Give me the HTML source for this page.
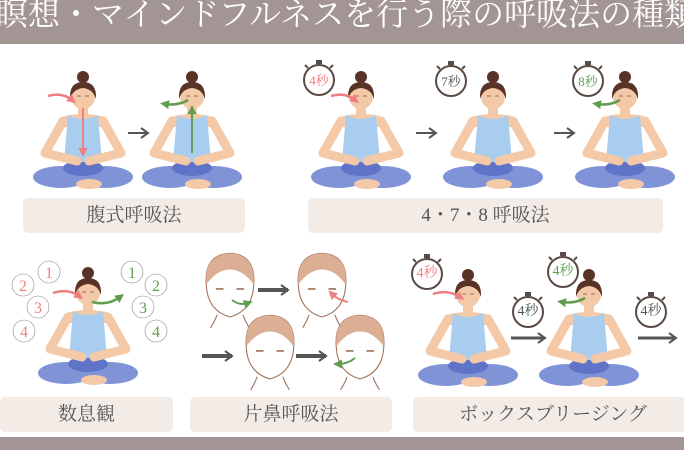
<!DOCTYPE html>
<html><head><meta charset="utf-8"><style>
html,body{margin:0;padding:0;background:#fff;}
body{width:684px;height:450px;overflow:hidden;position:relative;font-family:"Liberation Serif","Noto Serif CJK SC",serif;}
.hdr{position:absolute;left:0;top:0;width:684px;height:44px;background:#a39593;color:#fff;font-size:32px;line-height:38px;white-space:nowrap;overflow:hidden;}
.hdr span{position:absolute;left:-4px;top:-5px;}
.lab{position:absolute;background:#f3ebe6;border-radius:5px;color:#555;font-size:19px;text-align:center;}
.foot{position:absolute;left:0;top:437px;width:684px;height:13px;background:#a39593;}
svg{position:absolute;left:0;top:0;}
</style></head><body>
<div class="hdr"><span>瞑想・マインドフルネスを行う際の呼吸法の種類</span></div>
<svg width="684" height="450" viewBox="0 0 684 450">
<defs>
<symbol id="w" viewBox="-48 0 96 125" overflow="visible">
 <ellipse cx="-22" cy="110" rx="28" ry="11" fill="#7f93d6"/>
 <ellipse cx="22" cy="110" rx="28" ry="11" fill="#7f93d6"/>
 <ellipse cx="0" cy="101" rx="20" ry="8" fill="#5f74c8"/>
 <ellipse cx="6" cy="117" rx="13" ry="5" fill="#f3c9a8"/>
 <rect x="-5" y="38" width="10" height="12" fill="#f3c9a8"/>
 <path d="M-22,50 Q0,44 22,50 L20,60 L-20,60Z" fill="#f3c9a8"/>
 <path d="M-15,48 Q0,56 15,48 L19,95 L-19,95Z" fill="#a9cdee"/>
 <path d="M-20,54 L-38,86 L-6,94" fill="none" stroke="#f3c9a8" stroke-width="9" stroke-linecap="round" stroke-linejoin="round"/>
 <path d="M20,54 L38,86 L6,94" fill="none" stroke="#f3c9a8" stroke-width="9" stroke-linecap="round" stroke-linejoin="round"/>
 <circle cx="0" cy="30" r="12" fill="#f3c9a8"/>
 <path d="M-13,32 Q-14,15 0,15 Q14,15 13,32 Q10,22 0,21 Q-10,22 -13,32Z" fill="#5a3328"/>
 <circle cx="0" cy="10" r="6" fill="#5a3328"/>
 <path d="M-6,29 h4 M2,29 h4" stroke="#7a5040" stroke-width="0.8"/>
</symbol>
<symbol id="t" viewBox="-20 -24 40 44" overflow="visible">
 <rect x="-3" y="-20" width="6" height="4" fill="#5a4a44"/>
 <rect x="-1.5" y="-17" width="3" height="3" fill="#5a4a44"/>
 <path d="M11,-12 l3,-3 M-11,-12 l-3,-3" stroke="#5a4a44" stroke-width="2"/>
 <circle cx="0" cy="0" r="15" fill="#fff" stroke="#5a4a44" stroke-width="2"/>
</symbol>
<symbol id="face" viewBox="-25 -32 50 70" overflow="visible">
 <path d="M-22,-2 Q-24,-30 0,-31 Q24,-30 22,-2 Q21,22 0,28 Q-21,22 -22,-2Z" fill="#fff" stroke="#a0705a" stroke-width="1"/>
 <path d="M-22,-2 Q-24,-30 0,-31 Q24,-30 22,-2 Q12,-16 0,-16 Q-12,-16 -22,-2Z" fill="#dcae93"/>
 <path d="M-13,2 h7 M6,2 h7" stroke="#a0705a" stroke-width="1.5"/>
 <path d="M-12,26 Q-14,32 -18,38 M12,26 Q14,32 18,38" fill="none" stroke="#a0705a"/>
</symbol>
<marker id="ag" markerUnits="userSpaceOnUse" markerWidth="9" markerHeight="9" refX="4" refY="4.5" orient="auto"><path d="M0,0 L9,4.5 L0,9Z" fill="#5f9e4f"/></marker>
<marker id="ar" markerUnits="userSpaceOnUse" markerWidth="9" markerHeight="9" refX="4" refY="4.5" orient="auto"><path d="M0,0 L9,4.5 L0,9Z" fill="#ef7f7f"/></marker>
<marker id="ak" markerUnits="userSpaceOnUse" markerWidth="10" markerHeight="12" refX="8" refY="6" orient="auto"><path d="M1,1 L8,6 L1,11" fill="none" stroke="#555" stroke-width="2"/></marker>
</defs>
<use href="#w" x="35" y="67" width="96" height="125"/>
<use href="#w" x="144" y="67" width="96" height="125"/>
<use href="#w" x="313" y="67" width="96" height="125"/>
<use href="#w" x="445" y="67" width="96" height="125"/>
<use href="#w" x="577" y="67" width="96" height="125"/>
<path d="M48,96 Q62,92 72,100" fill="none" stroke="#ef7f7f" stroke-width="2.5" marker-end="url(#ar)"/>
<path d="M83,108 V152" stroke="#ef7f7f" stroke-width="2" marker-end="url(#ar)"/>
<path d="M188,100 Q178,106 165,104" fill="none" stroke="#5f9e4f" stroke-width="2.5" marker-end="url(#ag)"/>
<path d="M192,153 V110" stroke="#5f9e4f" stroke-width="2" marker-end="url(#ag)"/>
<path d="M128,133 h20" stroke="#555" stroke-width="2" marker-end="url(#ak)"/>
<path d="M416,133 h20" stroke="#555" stroke-width="2" marker-end="url(#ak)"/>
<path d="M554,133 h20" stroke="#555" stroke-width="2" marker-end="url(#ak)"/>
<use href="#t" x="299" y="56" width="40" height="44"/>
<use href="#t" x="431" y="57" width="40" height="44"/>
<use href="#t" x="568" y="57" width="40" height="44"/>
<g font-size="13" text-anchor="middle" font-family="Liberation Serif,Noto Serif CJK SC,serif">
<text x="319" y="85" fill="#ef7f7f">4秒</text>
<text x="451" y="86" fill="#555">7秒</text>
<text x="588" y="86" fill="#5f9e4f">8秒</text>
</g>
<path d="M331,96 Q345,92 355,100" fill="none" stroke="#ef7f7f" stroke-width="2.5" marker-end="url(#ar)"/>
<path d="M620,100 Q610,106 597,104" fill="none" stroke="#5f9e4f" stroke-width="2.5" marker-end="url(#ag)"/>
<use href="#w" x="40" y="263" width="96" height="125"/>
<path d="M53,293 Q68,288 79,296" fill="none" stroke="#ef7f7f" stroke-width="2.5" marker-end="url(#ar)"/>
<path d="M92,302 Q108,306 120,297" fill="none" stroke="#5f9e4f" stroke-width="2.5" marker-end="url(#ag)"/>
<g font-size="16" text-anchor="middle" font-family="Liberation Serif,serif">
<circle cx="49" cy="272" r="11" fill="#fff" stroke="#888" stroke-width="0.6"/><text x="49" y="278" fill="#ef7f7f">1</text>
<circle cx="23" cy="285" r="11" fill="#fff" stroke="#888" stroke-width="0.6"/><text x="23" y="291" fill="#ef7f7f">2</text>
<circle cx="38" cy="307" r="11" fill="#fff" stroke="#888" stroke-width="0.6"/><text x="38" y="313" fill="#ef7f7f">3</text>
<circle cx="24" cy="331" r="11" fill="#fff" stroke="#888" stroke-width="0.6"/><text x="24" y="337" fill="#ef7f7f">4</text>
<circle cx="132" cy="272" r="11" fill="#fff" stroke="#888" stroke-width="0.6"/><text x="132" y="278" fill="#5f9e4f">1</text>
<circle cx="156" cy="285" r="11" fill="#fff" stroke="#888" stroke-width="0.6"/><text x="156" y="291" fill="#5f9e4f">2</text>
<circle cx="143" cy="307" r="11" fill="#fff" stroke="#888" stroke-width="0.6"/><text x="143" y="313" fill="#5f9e4f">3</text>
<circle cx="156" cy="331" r="11" fill="#fff" stroke="#888" stroke-width="0.6"/><text x="156" y="337" fill="#5f9e4f">4</text>
</g>
<use href="#face" x="203" y="252" width="54" height="76"/>
<use href="#face" x="295" y="252" width="54" height="76"/>
<use href="#face" x="243" y="314" width="54" height="76"/>
<use href="#face" x="333" y="314" width="54" height="76"/>
<path d="M258,290 h30" stroke="#555" stroke-width="4" marker-end="url(#ak)"/>
<path d="M202,356 h30" stroke="#555" stroke-width="4" marker-end="url(#ak)"/>
<path d="M296,356 h30" stroke="#555" stroke-width="4" marker-end="url(#ak)"/>
<path d="M232,300 Q240,306 248,303" fill="none" stroke="#5f9e4f" stroke-width="2" marker-end="url(#ag)"/>
<path d="M348,302 Q338,300 332,294" fill="none" stroke="#ef7f7f" stroke-width="2" marker-end="url(#ar)"/>
<path d="M355,358 Q348,364 338,364" fill="none" stroke="#5f9e4f" stroke-width="2" marker-end="url(#ag)"/>
<use href="#w" x="420" y="265" width="96" height="125"/>
<use href="#w" x="541" y="265" width="96" height="125"/>
<path d="M433,294 Q448,289 460,297" fill="none" stroke="#ef7f7f" stroke-width="2.5" marker-end="url(#ar)"/>
<path d="M585,298 Q575,304 562,302" fill="none" stroke="#5f9e4f" stroke-width="2.5" marker-end="url(#ag)"/>
<path d="M511,338 h34" stroke="#555" stroke-width="3" marker-end="url(#ak)"/>
<path d="M638,338 h38" stroke="#555" stroke-width="3" marker-end="url(#ak)"/>
<use href="#t" x="407" y="250" width="40" height="44"/>
<use href="#t" x="508" y="288" width="40" height="44"/>
<use href="#t" x="543" y="248" width="40" height="44"/>
<use href="#t" x="631" y="288" width="40" height="44"/>
<g font-size="14" text-anchor="middle" font-family="Liberation Serif,Noto Serif CJK SC,serif">
<text x="427" y="277" fill="#ef7f7f">4秒</text>
<text x="528" y="315" fill="#555">4秒</text>
<text x="563" y="275" fill="#5f9e4f">4秒</text>
<text x="651" y="315" fill="#555">4秒</text>
</g>
</svg>
<div class="lab" style="left:23px;top:198px;width:222px;height:35px;line-height:35px;">腹式呼吸法</div>
<div class="lab" style="left:308px;top:198px;width:355px;height:35px;line-height:35px;">4・7・8 呼吸法</div>
<div class="lab" style="left:0px;top:397px;width:173px;height:35px;line-height:35px;">数息観</div>
<div class="lab" style="left:190px;top:397px;width:202px;height:35px;line-height:35px;">片鼻呼吸法</div>
<div class="lab" style="left:413px;top:397px;width:280px;height:35px;line-height:35px;">ボックスブリージング</div>
<div class="foot"></div>
</body></html>
